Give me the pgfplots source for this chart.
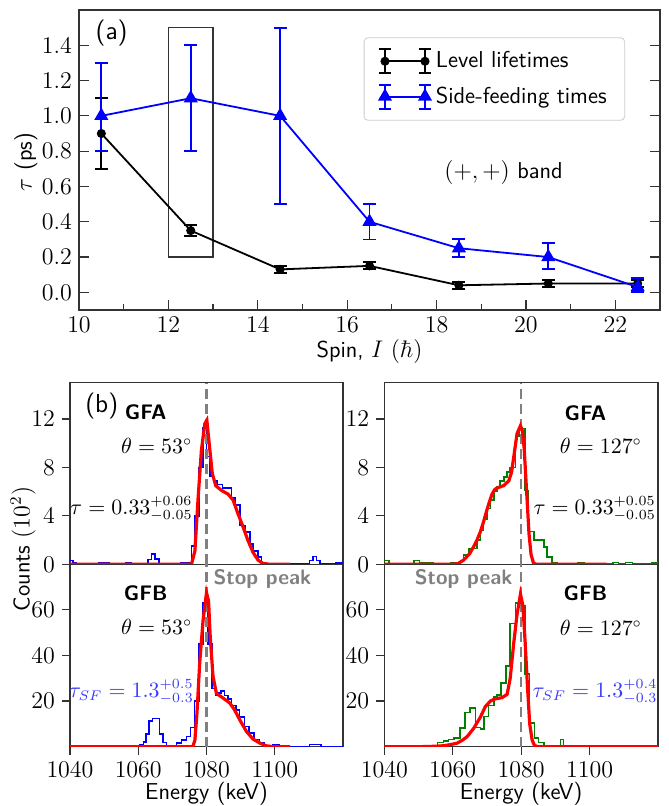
\documentclass[border=0pt]{standalone}
\usepackage{pgfplots}
\pgfplotsset{compat=1.18}
\definecolor{mgreen}{RGB}{0,128,0}
\definecolor{sfblue}{RGB}{55,55,255}
\newcommand{\tf}{\fontsize{11.5}{13}\selectfont}
\tikzset{stopline/.style={gray, line width=1.3pt, dash pattern=on 5pt off 2.5pt}}
\begin{document}
\begin{tikzpicture}
\useasboundingbox (0,0) rectangle (334pt,403pt);
\pgfplotsset{
  every axis/.append style={
    scale only axis, anchor=south west,
    axis line style={black!80, line width=0.6pt},
    tick style={black!80, line width=0.6pt},
    tick label style={font=\tf},
  },
  histo/.style={width=136.5pt, xmin=1040, xmax=1120, tick align=outside,
    xtick pos=left, ytick pos=left, major tick length=4pt,
    xtick={1040,1060,1080,1100},
    xticklabel style={/pgf/number format/1000 sep=}},
  hist/.style={const plot, line width=0.8pt},
  fit/.style={red, line width=1.6pt},
}
% ---------------- panel (a)
\begin{axis}[at={(39.5pt,248pt)}, width=290.5pt, height=150pt,
  xmin=10, xmax=23, ymin=-0.1, ymax=1.6,
  xtick={10,12,14,16,18,20,22}, minor xtick={11,13,15,17,19,21},
  xtick pos=left, ytick pos=both,
  ytick={0,0.2,0.4,0.6,0.8,1.0,1.2,1.4},
  yticklabel style={/pgf/number format/.cd,fixed,fixed zerofill,precision=1},
  tick align=inside, major tick length=5pt, minor tick length=3pt,
  legend style={at={(0.49,0.909)}, anchor=north west, draw=black!20, rounded corners=2pt,
    font=\sffamily\fontsize{11.5}{13}\selectfont, row sep=4pt, inner xsep=7pt, inner ysep=5pt},
  legend cell align=left,
  legend image code/.code={%
    \draw[#1,mark=none] (0pt,0pt) -- (20pt,0pt);
    \draw[#1,mark=none] (0pt,-6pt) -- (0pt,6pt) (20pt,-6pt) -- (20pt,6pt);
    \draw[#1,mark=none] (-3pt,-6pt) -- (3pt,-6pt) (-3pt,6pt) -- (3pt,6pt) (17pt,-6pt) -- (23pt,-6pt) (17pt,6pt) -- (23pt,6pt);
    \draw[#1,only marks] plot coordinates {(0pt,0pt) (20pt,0pt)};
  },
]
\draw[black!80, line width=0.6pt] (axis cs:12,0.2) rectangle (axis cs:13,1.5);
\addplot[black, line width=0.9pt, mark=*, mark size=1.8pt,
  error bars/.cd, y dir=both, y explicit,
  error bar style={line width=0.9pt, solid},
  error mark options={rotate=90, mark size=3.2pt, line width=0.9pt}]
coordinates {
 (10.5,0.90) +- (0,0.20)
 (12.5,0.35) +- (0,0.03)
 (14.5,0.13) +- (0,0.02)
 (16.5,0.15) +- (0,0.02)
 (18.5,0.04) +- (0,0.02)
 (20.5,0.05) +- (0,0.02)
 (22.5,0.05) +- (0,0.02)
};
\addlegendentry{Level lifetimes}
\addplot[blue, line width=0.9pt, mark=triangle*, mark size=3.2pt,
  error bars/.cd, y dir=both, y explicit,
  error bar style={line width=0.9pt, solid},
  error mark options={rotate=90, mark size=3.2pt, line width=0.9pt}]
coordinates {
 (10.5,1.00) += (0,0.30) -= (0,0.20)
 (12.5,1.10) += (0,0.30) -= (0,0.30)
 (14.5,1.00) += (0,0.50) -= (0,0.50)
 (16.5,0.40) += (0,0.10) -= (0,0.10)
 (18.5,0.25) += (0,0.05) -= (0,0.05)
 (20.5,0.20) += (0,0.08) -= (0,0.07)
 (22.5,0.03) += (0,0.05) -= (0,0.03)
};
\addlegendentry{Side-feeding times}
\node[font=\sffamily\fontsize{13}{14}\selectfont] at (axis cs:10.73,1.47) {(a)};
\node[font=\fontsize{11.5}{13}\selectfont] at (axis cs:19.5,0.68) {$(+,+)$ \sffamily band};
\end{axis}
\node[rotate=90, font=\fontsize{11.5}{13}\selectfont] at (13pt,322pt) {$\tau$ \sffamily (ps)};
\node[anchor=base, font=\sffamily\fontsize{11.5}{13}\selectfont] at (184.75pt,224pt) {Spin, $I$ $(\hbar)$};

% ---------------- GFA left
\begin{axis}[histo, at={(35pt,120.85pt)}, height=90.8pt, ymin=0, ymax=15,
  ytick={0,4,8,12}, xtick=\empty]
\addplot[hist, blue] coordinates {
 (1040,0.3)(1040.8,0.1)(1041.8,0)(1048.3,0.15)(1051.5,0)(1056.3,0.1)(1058,0)
 (1062.9,0.4)(1063.9,0.85)(1064.9,0.45)(1066.1,0)(1072.6,0.12)(1075.6,1.5)
 (1076.6,4.0)(1077.8,8.0)(1078.9,11.3)(1080,8.9)(1081,7.3)(1082,6.9)(1083,6.6)
 (1084.7,6.3)(1087.3,5.5)(1088.3,4.9)(1089.8,3.2)(1091.2,2.65)(1092.7,1.7)
 (1093.7,1.1)(1095.1,0.6)(1096.1,0.15)(1097.6,0)(1110.2,0.3)(1111.2,0.65)
 (1112.2,0.3)(1113.2,0)(1118,0.1)(1120,0.1)};
\draw[stopline] (axis cs:1080,0) -- (axis cs:1080,15);
\addplot[fit] coordinates {
 (1040,0)(1075.6,0)(1076.6,1.1)(1077.5,5.3)(1078.5,9.4)(1079.5,11.6)(1080.1,11.9)
 (1081,9.4)(1081.7,7.5)(1082.7,6.5)(1084.4,6.1)(1086.3,5.8)(1087.8,5.3)(1089.2,4.2)
 (1090.7,3.1)(1092.1,2.0)(1093.6,1.0)(1095.1,0.35)(1096.5,0.08)(1098.5,0)(1104.5,0)};
\node[font=\sffamily\fontsize{13}{14}\selectfont] at (axis cs:1049.3,13.1) {(b)};
\node[font=\sffamily\bfseries\fontsize{10.5}{12}\selectfont] at (axis cs:1062.2,12.6) {GFA};
\node[font=\fontsize{10.5}{12}\selectfont] at (axis cs:1065.4,9.8) {$\theta=53^\circ$};
\node[font=\fontsize{10.5}{12}\selectfont] at (axis cs:1058,4.6) {$\tau=0.33^{+0.06}_{-0.05}$};
\end{axis}

% ---------------- GFB left
\begin{axis}[histo, at={(35pt,29.65pt)}, height=91.2pt, ymin=0, ymax=80,
  ytick={20,40,60}]
\addplot[hist, blue] coordinates {
 (1040,0)(1043,0.4)(1044.7,0)(1060.5,1.0)(1061.5,2.0)(1062.3,5.5)(1063.2,11.4)
 (1064.2,12.4)(1066.2,5.6)(1067.3,1.8)(1068.3,0.4)(1070,0.3)(1071.2,1.5)(1072.7,2.9)
 (1074.1,4.4)(1075.3,8.5)(1076.5,20)(1077.8,45)(1079,63)(1080.4,45)(1081.6,25.5)
 (1082.6,22.5)(1083.6,23.5)(1084.3,24.5)(1085.3,22.5)(1086.3,21)(1087.3,18)
 (1088.6,16)(1089.7,13)(1091.1,8.8)(1092.4,5.9)(1094,3.2)(1095.5,1.5)(1097,0.6)
 (1099.5,1.0)(1101.4,0)(1110.2,1.0)(1112,1.0)(1113.5,0)(1120,0)};
\draw[stopline] (axis cs:1080,0) -- (axis cs:1080,80);
\addplot[fit] coordinates {
 (1040,0)(1076,0)(1076.6,2.9)(1077.2,14.6)(1078,36.6)(1079,55.6)(1080,67.5)
 (1080.6,64)(1081.1,48)(1081.9,31)(1082.9,23.4)(1084.8,21.4)(1086.8,19.2)
 (1088.2,16.2)(1089.7,11.9)(1091.7,6.7)(1093.6,3.4)(1095.6,1.6)(1097.5,0.4)
 (1099.5,0)(1104.5,0)};
\node[font=\sffamily\bfseries\fontsize{10.5}{12}\selectfont, text=gray] at (axis cs:1096.4,73.5) {Stop peak};
\node[font=\sffamily\bfseries\fontsize{10.5}{12}\selectfont] at (axis cs:1062.2,67.3) {GFB};
\node[font=\fontsize{10.5}{12}\selectfont] at (axis cs:1065.4,52.7) {$\theta=53^\circ$};
\node[font=\fontsize{10.5}{12}\selectfont, text=sfblue] at (axis cs:1058,24.2) {$\tau_{SF}=1.3^{+0.5}_{-0.3}$};
\end{axis}

% ---------------- GFA right
\begin{axis}[histo, at={(192.15pt,120.85pt)}, width=136.85pt, height=90.8pt, ymin=0, ymax=15,
  ytick={0,4,8,12}, xtick=\empty]
\addplot[hist, mgreen] coordinates {
 (1040,0.3)(1041.3,0.05)(1048.6,0.3)(1050.3,0.1)(1054.4,0)(1059.3,0.1)(1061.2,0)
 (1062.3,0.3)(1063.2,0.75)(1064.7,1.3)(1066.1,1.3)(1067.1,2.0)(1068.1,2.8)(1069,3.7)
 (1070,4.6)(1071,5.3)(1072,6.0)(1073,6.4)(1073.9,6.9)(1074.9,7.2)(1075.9,7.6)
 (1076.8,8.0)(1078.3,10.6)(1079.3,11.2)(1081.2,6.1)(1082.2,2.7)(1083.7,2.0)
 (1085.2,2.0)(1086.6,1.45)(1087.6,0.6)(1089,0.15)(1090.5,0.05)(1092,0)(1096.7,0.1)
 (1098.5,0)(1106.8,0.15)(1108.5,0)(1110.5,0.15)(1112.5,0)(1118.3,0.1)(1120,0.1)};
\draw[stopline] (axis cs:1080,0) -- (axis cs:1080,15);
\addplot[fit] coordinates {
 (1040,0)(1060,0)(1061.5,0.05)(1063.2,0.35)(1065,0.9)(1066.1,1.45)(1067.1,2.0)
 (1068.1,2.7)(1069,3.5)(1070,4.5)(1071,5.4)(1071.5,5.8)(1072.2,6.15)(1072.9,6.3)
 (1074.9,6.5)(1076.4,6.9)(1077.2,7.6)(1077.8,8.8)(1078.8,10.8)(1079.8,11.45)
 (1080.4,11.0)(1080.9,9.5)(1081.7,5.5)(1082.3,2.5)(1082.9,0.8)(1083.6,0.1)
 (1084.5,0)(1105,0)};
\node[font=\sffamily\bfseries\fontsize{10.5}{12}\selectfont] at (axis cs:1098.8,12.5) {GFA};
\node[font=\fontsize{10.5}{12}\selectfont] at (axis cs:1103.3,9.8) {$\theta=127^\circ$};
\node[font=\fontsize{10.5}{12}\selectfont] at (axis cs:1101.5,4.6) {$\tau=0.33^{+0.05}_{-0.05}$};
\end{axis}

% ---------------- GFB right
\begin{axis}[histo, at={(192.15pt,29.65pt)}, width=136.85pt, height=91.2pt, ymin=0, ymax=80,
  ytick={20,40,60}]
\addplot[hist, mgreen] coordinates {
 (1040,0)(1055.6,1.9)(1057.3,2.5)(1058.8,3.1)(1060.3,3.8)(1062.2,8.2)(1063.5,15)
 (1065.1,17)(1066.6,8.5)(1068.1,7.7)(1069.2,13.3)(1070.5,18)(1072,21.8)(1073,22.8)
 (1074.1,28)(1075.6,35.5)(1076.8,54)(1078.3,63)(1079.8,62)(1081.2,32)(1082.4,10.4)
 (1083.9,3.8)(1085.1,1.9)(1086.6,0)(1091.5,3.1)(1092.4,0)(1120,0)};
\draw[stopline] (axis cs:1080,0) -- (axis cs:1080,80);
\addplot[fit] coordinates {
 (1040,0)(1050,0)(1053,0.1)(1056.4,0.3)(1058.5,0.7)(1061.2,1.5)(1062.8,2.8)
 (1064.2,4.4)(1066.1,8)(1068.1,13)(1069.5,17.5)(1071,20)(1072.4,21)(1074.4,21.5)
 (1075.9,23)(1076.8,30)(1077.8,45)(1078.8,58)(1079.8,67)(1080.5,62)(1081.2,45)
 (1081.9,25)(1082.5,10)(1083.2,3)(1083.9,0.5)(1085,0)(1120,0)};
\node[font=\sffamily\bfseries\fontsize{10.5}{12}\selectfont, text=gray] at (axis cs:1063.2,73.4) {Stop peak};
\node[font=\sffamily\bfseries\fontsize{10.5}{12}\selectfont] at (axis cs:1098.8,67.3) {GFB};
\node[font=\fontsize{10.5}{12}\selectfont] at (axis cs:1103.3,52) {$\theta=127^\circ$};
\node[font=\fontsize{10.5}{12}\selectfont, text=sfblue] at (axis cs:1101.6,24.2) {$\tau_{SF}=1.3^{+0.4}_{-0.3}$};
\end{axis}

\node[rotate=90, font=\sffamily\fontsize{11.5}{13}\selectfont] at (11.5pt,128.5pt) {Counts $(10^2)$};
\node[anchor=base, font=\sffamily\fontsize{11.5}{13}\selectfont] at (103.25pt,3pt) {Energy (keV)};
\node[anchor=base, font=\sffamily\fontsize{11.5}{13}\selectfont] at (260.5pt,3pt) {Energy (keV)};
\end{tikzpicture}
\end{document}
